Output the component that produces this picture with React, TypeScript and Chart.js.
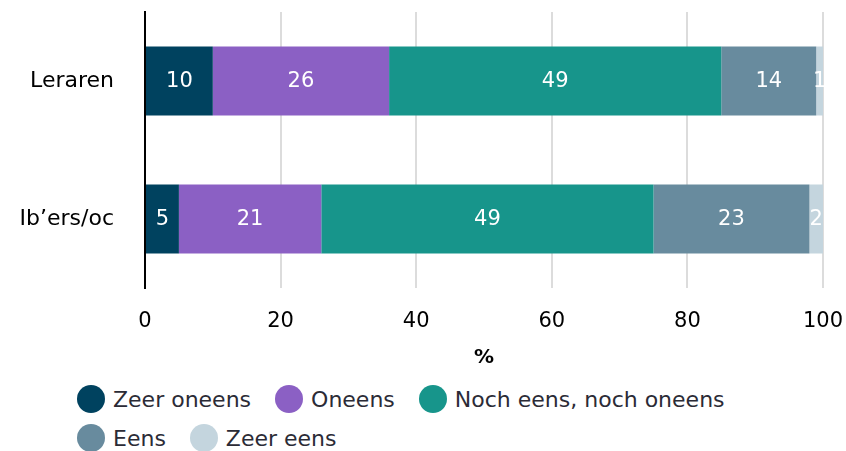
import React, { useEffect, useRef } from "react";
import { Chart, registerables } from "chart.js";

Chart.register(...registerables);

const categories = ["Leraren", "Ib’ers/oc"];
const seriesNames = ["Zeer oneens", "Oneens", "Noch eens, noch oneens", "Eens", "Zeer eens"];
const zeerOneens = [10, 5];
const oneens = [26, 21];
const neutraal = [49, 49];
const eens = [14, 23];
const zeerEens = [1, 2];
const seriesValues = [zeerOneens, oneens, neutraal, eens, zeerEens];
const seriesColors = ["#00425f", "#8b60c4", "#17958b", "#688b9e", "#c4d5de"];
const xTicks = [0, 20, 40, 60, 80, 100];

const FONT = "'DejaVu Sans', 'Noto Sans', sans-serif";

const valueLabels = {
  id: "valueLabels",
  afterDatasetsDraw(chart: any) {
    const ctx = chart.ctx;
    ctx.save();
    ctx.font = `21px ${FONT}`;
    ctx.fillStyle = "#ffffff";
    ctx.textAlign = "center";
    ctx.textBaseline = "middle";
    chart.data.datasets.forEach((ds: any, i: number) => {
      const meta = chart.getDatasetMeta(i);
      meta.data.forEach((el: any, j: number) => {
        const p = el.getCenterPoint();
        ctx.fillText(String(ds.data[j]), p.x, p.y + 1);
      });
    });
    ctx.restore();
  },
};

export default function App() {
  const ref = useRef<HTMLCanvasElement>(null);
  useEffect(() => {
    if (!ref.current) return;
    const chart = new Chart(ref.current, {
      type: "bar",
      data: {
        labels: categories,
        datasets: seriesNames.map((n, i) => ({
          label: n,
          data: seriesValues[i],
          backgroundColor: seriesColors[i],
          borderWidth: 0,
          barPercentage: 0.5,
          categoryPercentage: 1,
        })),
      },
      options: {
        indexAxis: "y",
        animation: false,
        responsive: false,
        maintainAspectRatio: false,
        layout: { padding: { top: 12, right: 23, bottom: 10, left: 0 } },
        plugins: { legend: { display: false }, tooltip: { enabled: false } },
        scales: {
          x: {
            stacked: true,
            min: 0,
            max: 100,
            afterBuildTicks: (s: any) => {
              s.ticks = xTicks.map((v) => ({ value: v }));
            },
            afterFit: (s: any) => {
              s.height = 82;
              s.paddingLeft = 0;
              s.paddingRight = 0;
            },
            ticks: { font: { family: FONT, size: 21 }, color: "#000", padding: 21, maxRotation: 0 },
            grid: {
              color: (c: any) => (c.tick && c.tick.value === 0 ? "rgba(0,0,0,0)" : "#dcdcdc"),
              lineWidth: 2,
              drawTicks: false,
            },
            border: { display: false },
            title: {
              display: true,
              text: "%",
              font: { family: FONT, size: 20, weight: "bold" },
              color: "#000",
              padding: { top: 14, bottom: 0 },
            },
          },
          y: {
            stacked: true,
            afterFit: (s: any) => {
              s.width = 145;
              s.paddingTop = 0;
              s.paddingBottom = 0;
            },
            ticks: { font: { family: FONT, size: 22 }, color: "#000", padding: 31 },
            grid: { display: false, drawTicks: false },
            border: { display: true, color: "#000", width: 2 },
          },
        },
      },
      plugins: [valueLabels],
    });
    return () => chart.destroy();
  }, []);

  return (
    <div style={{ position: "absolute", left: 0, top: 0, width: 846, height: 451, overflow: "hidden", background: "#fff" }}>
      <canvas ref={ref} width={846} height={380} style={{ display: "block", width: 846, height: 380 }} />
      <div
        style={{
          position: "absolute",
          left: 77,
          top: 384,
          width: 700,
          display: "flex",
          flexWrap: "wrap",
          columnGap: 24,
          rowGap: 9,
          fontFamily: FONT,
          fontSize: 22,
          color: "#2b2b36",
        }}
      >
        {seriesNames.map((n, i) => (
          <div key={n} style={{ display: "flex", alignItems: "center", height: 30 }}>
            <span
              style={{
                display: "inline-block",
                width: 28,
                height: 28,
                borderRadius: "50%",
                background: seriesColors[i],
                marginRight: 8,
              }}
            />
            <span>{n}</span>
          </div>
        ))}
      </div>
    </div>
  );
}
